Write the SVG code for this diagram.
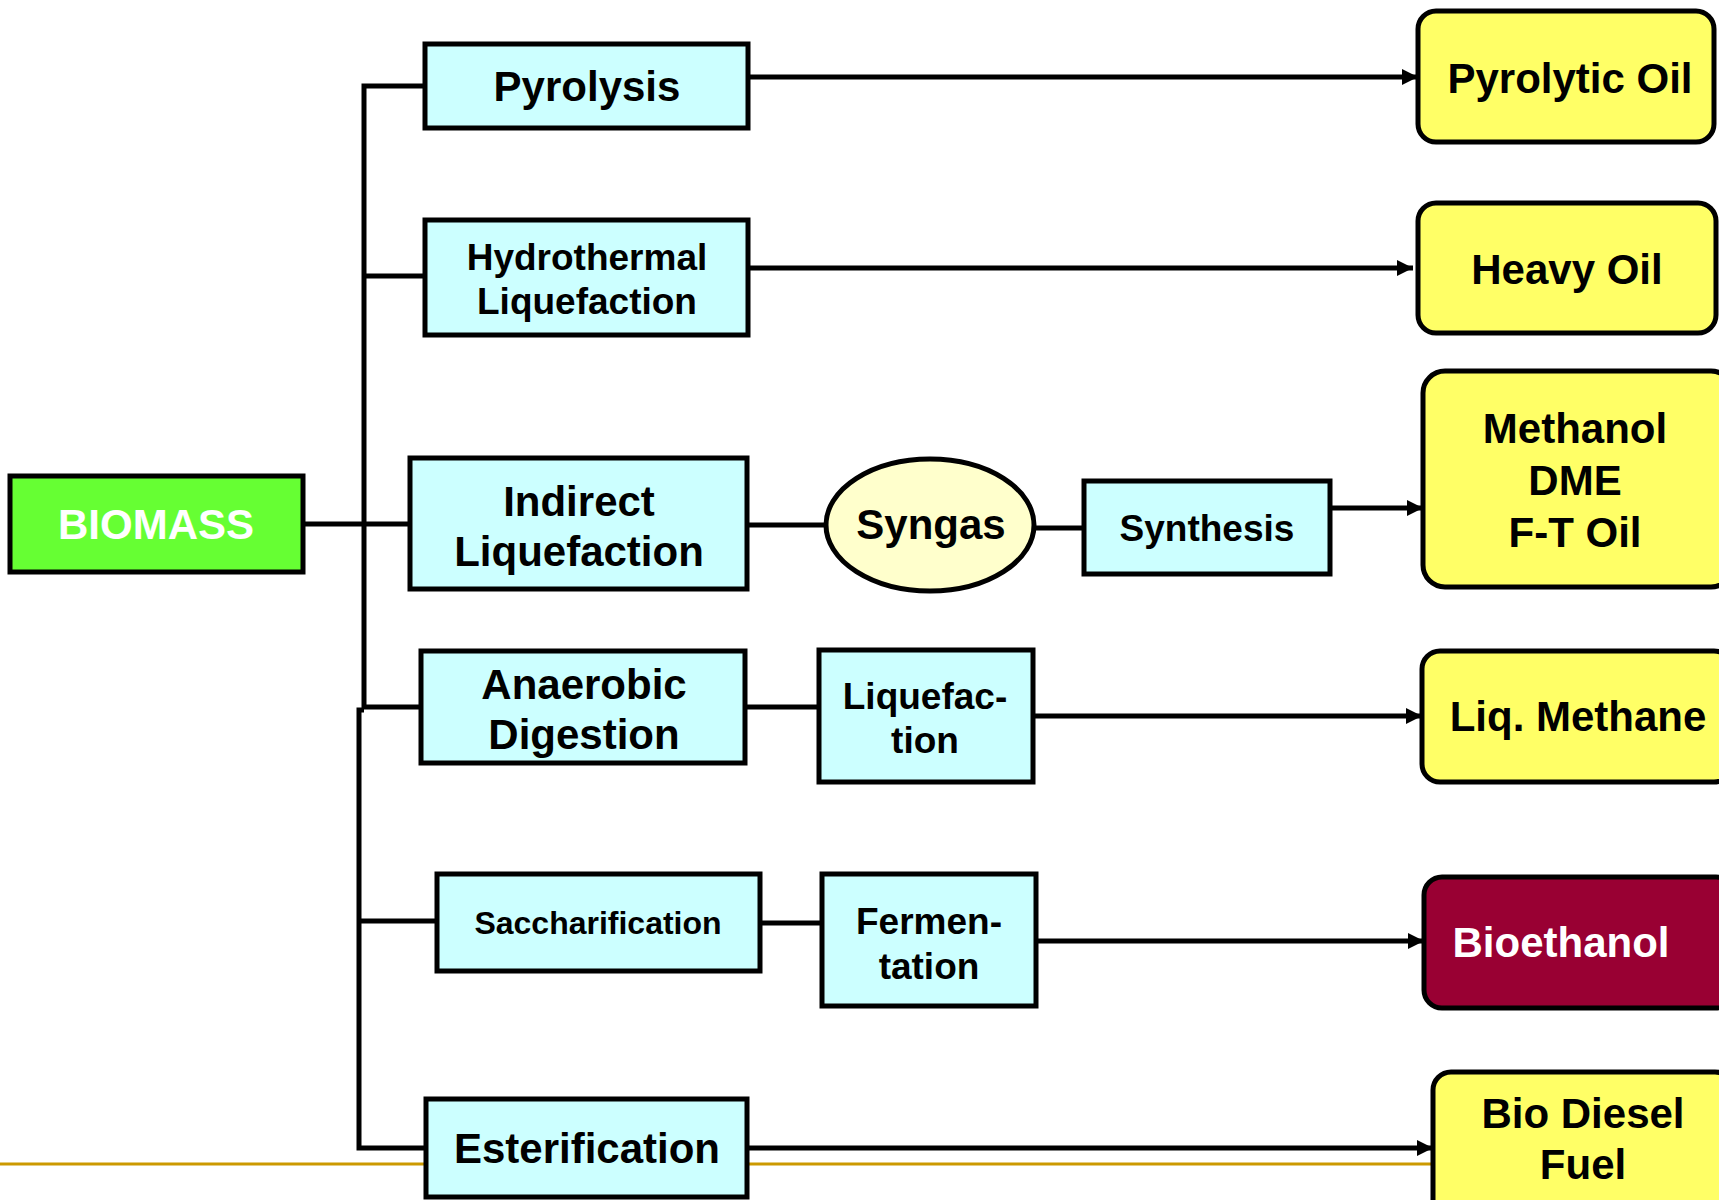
<svg xmlns="http://www.w3.org/2000/svg" width="1719" height="1200" viewBox="0 0 1719 1200">
<style>
.proc{fill:#ccffff;stroke:#000;stroke-width:5}
.prod{fill:#ffff66;stroke:#000;stroke-width:5}
.t{font-family:"Liberation Sans",Arial,sans-serif;font-weight:bold;text-anchor:middle;fill:#000}
.l{font-size:42px}
.m{font-size:37px}
.s{font-size:32px}
.w{fill:#fff}
.c{fill:none;stroke:#000;stroke-width:5}
.a{fill:none;stroke:#000;stroke-width:5;marker-end:url(#arr)}
</style>
<defs>
<marker id="arr" markerUnits="userSpaceOnUse" markerWidth="16" markerHeight="16" refX="16" refY="8" orient="auto">
<path d="M0,0 L16,8 L0,16 z" fill="#000"/>
</marker>
</defs>
<rect width="1719" height="1200" fill="#fff"/>
<line x1="0" y1="1164" x2="1433" y2="1164" stroke="#cc9900" stroke-width="3"/>
<g id="connectors">
<path class="c" d="M425,86 H364 V707 H421"/>
<path class="c" d="M364,276 H425"/>
<path class="c" d="M303,524 H410"/>
<path class="c" d="M364,710 H359 V1148 H426"/>
<path class="c" d="M359,921 H437"/>
<path class="a" d="M748,77 H1418"/>
<path class="a" d="M748,268 H1413"/>
<path class="c" d="M747,525 H826"/>
<path class="c" d="M1034,528 H1084"/>
<path class="a" d="M1330,508 H1423"/>
<path class="c" d="M745,707 H819"/>
<path class="a" d="M1033,716 H1422"/>
<path class="c" d="M760,923 H822"/>
<path class="a" d="M1036,941 H1424"/>
<path class="a" d="M747,1148 H1433"/>
</g>
<g id="biomass">
<rect x="10" y="476" width="293" height="96" fill="#66ff33" stroke="#000" stroke-width="5"/>
<text class="t l w" x="156" y="539">BIOMASS</text>
</g>
<g id="pyrolysis">
<rect class="proc" x="425" y="44" width="323" height="84"/>
<text class="t l" x="587" y="101">Pyrolysis</text>
</g>
<g id="hydrothermal">
<rect class="proc" x="425" y="220" width="323" height="115"/>
<text class="t m" x="587" y="270">Hydrothermal</text>
<text class="t m" x="587" y="314">Liquefaction</text>
</g>
<g id="indirect">
<rect class="proc" x="410" y="458" width="337" height="131"/>
<text class="t l" x="579" y="516">Indirect</text>
<text class="t l" x="579" y="566">Liquefaction</text>
</g>
<g id="syngas">
<ellipse cx="930" cy="525" rx="104" ry="66" fill="#ffffcc" stroke="#000" stroke-width="5"/>
<text class="t l" x="931" y="539">Syngas</text>
</g>
<g id="synthesis">
<rect class="proc" x="1084" y="481" width="246" height="93"/>
<text class="t m" x="1207" y="541">Synthesis</text>
</g>
<g id="anaerobic">
<rect class="proc" x="421" y="651" width="324" height="112"/>
<text class="t l" x="584" y="699">Anaerobic</text>
<text class="t l" x="584" y="749">Digestion</text>
</g>
<g id="liquefaction">
<rect class="proc" x="819" y="650" width="214" height="132"/>
<text class="t m" x="925" y="709">Liquefac-</text>
<text class="t m" x="925" y="753">tion</text>
</g>
<g id="saccharification">
<rect class="proc" x="437" y="874" width="323" height="97"/>
<text class="t s" x="598" y="934">Saccharification</text>
</g>
<g id="fermentation">
<rect class="proc" x="822" y="874" width="214" height="132"/>
<text class="t m" x="929" y="934">Fermen-</text>
<text class="t m" x="929" y="979">tation</text>
</g>
<g id="esterification">
<rect class="proc" x="426" y="1099" width="321" height="98"/>
<text class="t l" x="587" y="1163">Esterification</text>
</g>
<g id="pyrolytic-oil">
<rect class="prod" x="1418" y="11" width="296" height="131" rx="18"/>
<text class="t l" x="1570" y="93">Pyrolytic Oil</text>
</g>
<g id="heavy-oil">
<rect class="prod" x="1418" y="203" width="298" height="130" rx="18"/>
<text class="t l" x="1567" y="284">Heavy Oil</text>
</g>
<g id="methanol">
<rect class="prod" x="1423" y="371" width="310" height="216" rx="22"/>
<text class="t l" x="1575" y="443">Methanol</text>
<text class="t l" x="1575" y="495">DME</text>
<text class="t l" x="1575" y="547">F-T Oil</text>
</g>
<g id="liq-methane">
<rect class="prod" x="1422" y="651" width="310" height="131" rx="18"/>
<text class="t l" x="1578" y="731">Liq. Methane</text>
</g>
<g id="bioethanol">
<rect x="1424" y="877" width="310" height="131" rx="18" fill="#990033" stroke="#000" stroke-width="5"/>
<text class="t l w" x="1561" y="957">Bioethanol</text>
</g>
<g id="biodiesel">
<rect class="prod" x="1433" y="1072" width="300" height="150" rx="18"/>
<text class="t l" x="1583" y="1128">Bio Diesel</text>
<text class="t l" x="1583" y="1179">Fuel</text>
</g>
</svg>
